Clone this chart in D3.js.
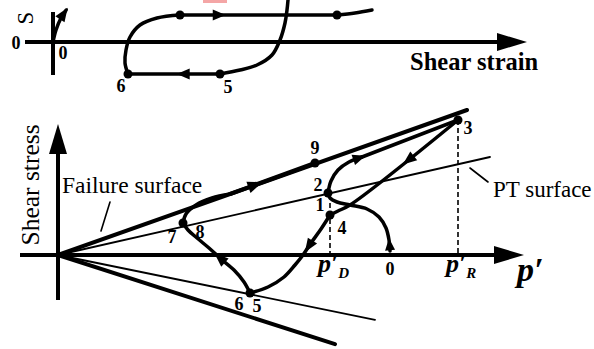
<!DOCTYPE html>
<html>
<head>
<meta charset="utf-8">
<script src="https://cdn.jsdelivr.net/npm/d3@7"></script>
<style>
  html, body { margin: 0; padding: 0; background: #fff; }
  svg { display: block; }
  text { font-family: "Liberation Serif", "Times New Roman", serif; fill: #000; }
</style>
</head>
<body>
<svg id="chart" width="594" height="349"></svg>
<script>
// ---------- Upper panel: shear stress vs shear strain (strain, stress units) ----------
const topInitial   = [[0, 0], [0.75, 3], [2, 6], [3.3, 8]];
const topUnload    = [[58.75, 10.5], [58.5, 8], [58, 4.75], [56.75, 0.5], [54.75, -3.25], [51, -5.75], [46.75, -7], [41.75, -8]];
const topLowerRun  = [[41.75, -8], [18.75, -8]];
const topReload    = [[18.75, -8], [18, -5.25], [18.25, -2], [19.25, 1.25], [21.75, 4.25], [26, 6], [31.75, 6.75]];
const topUpperRun  = [[31.75, 6.75], [71, 6.75]];
const topExit      = [[71, 6.75], [75.5, 7.25], [79.75, 8]];
const topDots      = [[41.75, -8], [18.75, -8], [31.75, 6.75], [71, 6.75]];
const topNumbers   = [
  { t: "0", x: -9.25, y: -0.25 },
  { t: "0", x: 2.5, y: -2.75 },
  { t: "6", x: 17, y: -11 },
  { t: "5", x: 43.75, y: -11.25 }
];

// ---------- Lower panel: stress path in p'-shear stress plane ----------
const failureUpper = [[0, 0], [102.25, 36.25]];
const failureLower = [[0, 0], [69.25, -22.3]];
const ptUpper      = [[0, 0], [108, 24.5]];
const ptLower      = [[0, 0], [79.25, -16.2]];

const path0to2 = [[83, 1], [82.75, 3.75], [82, 6.75], [80.25, 9.5], [77.25, 11.5], [73, 12.5], [69.75, 13.25], [68, 14.25], [67.5, 15.5]];
const path2to3 = [[67.5, 15.5], [68.25, 18.5], [70, 21.25], [72.75, 23.25], [76, 24.5]];
const path2to3Line = [[76, 24.5], [100, 33.75]];
const path3to4 = [[100, 33.75], [73, 12.5], [70, 11], [68, 10]];
const path4to5 = [[68, 10], [65.75, 6.5], [63.25, 3], [61.25, 0], [59.25, -2.5], [56.5, -5.5], [52.5, -8], [48, -9.5]];
const path6to7 = [[48, -9.5], [46.5, -6.75], [44, -3.75], [40.75, -1], [37.75, 1.75], [34.75, 4.25], [32.5, 6.25], [31.25, 8]];
const path8to9 = [[31.25, 8], [32, 10.25], [34.5, 12.5], [38.5, 14.25], [43, 15.25]];
const path8to9Line = [[43, 15.25], [64.25, 23]];

const pathDots = [[100, 33.75], [64.25, 23], [67.5, 15.5], [68, 10], [31.25, 8], [48, -9.5]];
const pDashes  = [[68, 13], [100, 33.75]];   // vertical drops to p'_D and p'_R
const pathNumbers = [
  { t: "9", x: 64.25, y: 26.75 },
  { t: "3", x: 102.5, y: 31.75 },
  { t: "2", x: 65, y: 17.5 },
  { t: "1", x: 65.5, y: 12.5 },
  { t: "4", x: 71, y: 6.75 },
  { t: "7", x: 28.5, y: 4.5 },
  { t: "8", x: 35.5, y: 5.75 },
  { t: "6", x: 45.25, y: -12.25 },
  { t: "5", x: 49.75, y: -12.75 },
  { t: "0", x: 83, y: -3.5 }
];
const pLabels = [
  { sub: "D", x: 65, y: -4.25 },
  { sub: "R", x: 97, y: -4.25 }
];

// ---------- scales ----------
const xTop = d3.scaleLinear().domain([0, 100]).range([53, 453]);
const yTop = d3.scaleLinear().domain([0, 10]).range([42, 2]);
const xB = d3.scaleLinear().domain([0, 100]).range([58, 458]);
const yB = d3.scaleLinear().domain([0, 10]).range([255, 215]);

const svg = d3.select("#chart");
const gTop = svg.append("g");
const gBot = svg.append("g");

function lineGen(xs, ys, curve) {
  return d3.line().x(d => xs(d[0])).y(d => ys(d[1])).curve(curve || d3.curveLinear);
}
function drawPath(g, pts, xs, ys, curve, w) {
  return g.append("path")
    .attr("d", lineGen(xs, ys, curve)(pts))
    .attr("fill", "none").attr("stroke", "#000")
    .attr("stroke-width", w).attr("stroke-linecap", "round").attr("stroke-linejoin", "round");
}
function triangle(g, cx, cy, ang, len, hw) {
  const dx = Math.cos(ang), dy = Math.sin(ang);
  const tip = [cx + dx * len / 2, cy + dy * len / 2];
  const b = [cx - dx * len / 2, cy - dy * len / 2];
  const pts = [tip, [b[0] - dy * hw, b[1] + dx * hw], [b[0] + dy * hw, b[1] - dx * hw]];
  g.append("polygon").attr("points", pts.map(p => p.join(",")).join(" ")).attr("fill", "#000");
}
function arrowAlong(g, sel, t, len, hw) {
  const node = sel.node();
  const L = node.getTotalLength();
  const a = Math.max(0, Math.min(L, t * L));
  const p0 = node.getPointAtLength(Math.max(0, a - 1.5));
  const p1 = node.getPointAtLength(Math.min(L, a + 1.5));
  const p = node.getPointAtLength(a);
  triangle(g, p.x, p.y, Math.atan2(p1.y - p0.y, p1.x - p0.x), len || 12, hw || 5);
}
const curve = d3.curveCatmullRom.alpha(0.5);

// ================= upper panel =================
gTop.append("rect")
  .attr("x", xTop(37.5)).attr("y", yTop(10.5)).attr("width", xTop(43.5) - xTop(37.5)).attr("height", yTop(9.75) - yTop(10.5))
  .attr("fill", "#f4a6a6");

// axes
drawPath(gTop, [[-7, 0], [112, 0]], xTop, yTop, null, 4).attr("stroke-linecap", "butt");
triangle(gTop, xTop(114.75), yTop(0), 0, 30, 9);
drawPath(gTop, [[0, 7.5], [0, -8.25]], xTop, yTop, null, 4).attr("stroke-linecap", "butt");

// initial loading and cyclic loop
const ini = drawPath(gTop, topInitial, xTop, yTop, curve, 3.5);
arrowAlong(gTop, ini, 0.88, 14, 5.5);
drawPath(gTop, topUnload, xTop, yTop, curve, 3.5);
const lowRun = drawPath(gTop, topLowerRun, xTop, yTop, null, 3.5);
arrowAlong(gTop, lowRun, 0.4, 13, 5.5);
drawPath(gTop, topReload, xTop, yTop, curve, 3.5);
const upRun = drawPath(gTop, topUpperRun, xTop, yTop, null, 3.5);
arrowAlong(gTop, upRun, 0.25, 13, 5.5);
drawPath(gTop, topExit, xTop, yTop, curve, 3.5);
gTop.selectAll("circle").data(topDots).join("circle")
  .attr("cx", d => xTop(d[0])).attr("cy", d => yTop(d[1])).attr("r", 4.5).attr("fill", "#000");

gTop.selectAll("text.num").data(topNumbers).join("text").attr("class", "num")
  .attr("x", d => xTop(d.x)).attr("y", d => yTop(d.y))
  .attr("text-anchor", "middle").attr("dominant-baseline", "central")
  .attr("font-size", 18).attr("font-weight", "bold").text(d => d.t);

gTop.append("text")
  .attr("transform", `translate(${xTop(-7)},${yTop(6)}) rotate(-90)`)
  .attr("text-anchor", "middle").attr("dominant-baseline", "central")
  .attr("font-size", 23).text("S");

gTop.append("text")
  .attr("x", xTop(89.25)).attr("y", yTop(-7))
  .attr("font-size", 24.5).attr("font-weight", "bold").text("Shear strain");

// ================= lower panel =================
// axes
drawPath(gBot, [[-9.5, 0], [110, 0]], xB, yB, null, 4).attr("stroke-linecap", "butt");
triangle(gBot, xB(112.75), yB(0), 0, 30, 9);
drawPath(gBot, [[0, -11.25], [0, 26]], xB, yB, null, 4).attr("stroke-linecap", "butt");
triangle(gBot, xB(0), yB(29), -Math.PI / 2, 30, 9);

// failure and phase-transformation lines
drawPath(gBot, failureUpper, xB, yB, null, 4);
drawPath(gBot, failureLower, xB, yB, null, 4);
drawPath(gBot, ptUpper, xB, yB, null, 1.8);
drawPath(gBot, ptLower, xB, yB, null, 1.8);

// dashed drops
gBot.selectAll("line.dash").data(pDashes).join("line").attr("class", "dash")
  .attr("x1", d => xB(d[0])).attr("x2", d => xB(d[0]))
  .attr("y1", d => yB(d[1])).attr("y2", yB(0))
  .attr("stroke", "#000").attr("stroke-width", 1.6).attr("stroke-dasharray", "5,3");

// stress path
const s02 = drawPath(gBot, path0to2, xB, yB, curve, 3.5);
arrowAlong(gBot, s02, 0.07, 12, 5);
const s23 = drawPath(gBot, path2to3, xB, yB, curve, 3.5);
drawPath(gBot, path2to3Line, xB, yB, null, 3.5);
arrowAlong(gBot, s23, 0.95, 13, 5.5);
const s34 = drawPath(gBot, path3to4, xB, yB, curve, 3.5);
arrowAlong(gBot, s34, 0.4, 14, 5.5);
const s45 = drawPath(gBot, path4to5, xB, yB, curve, 3.5);
arrowAlong(gBot, s45, 0.33, 14, 5.5);
const s67 = drawPath(gBot, path6to7, xB, yB, curve, 3.5);
arrowAlong(gBot, s67, 0.48, 14, 5.5);
drawPath(gBot, path8to9, xB, yB, curve, 3.5);
const s89 = drawPath(gBot, path8to9Line, xB, yB, null, 4);
arrowAlong(gBot, s89, 0.3, 15, 6);

gBot.selectAll("circle").data(pathDots).join("circle")
  .attr("cx", d => xB(d[0])).attr("cy", d => yB(d[1])).attr("r", 4.5).attr("fill", "#000");

gBot.selectAll("text.num").data(pathNumbers).join("text").attr("class", "num")
  .attr("x", d => xB(d.x)).attr("y", d => yB(d.y))
  .attr("text-anchor", "middle").attr("dominant-baseline", "central")
  .attr("font-size", 18).attr("font-weight", "bold").text(d => d.t);

// annotations
gBot.append("text").attr("x", xB(1)).attr("y", yB(15.5)).attr("font-size", 23.5).text("Failure surface");
drawPath(gBot, [[13, 13.25], [10.75, 6]], xB, yB, null, 1.6);
gBot.append("text").attr("x", xB(108.75)).attr("y", yB(14.5)).attr("font-size", 23).text("PT surface");
drawPath(gBot, [[103, 21.75], [107.5, 18.25]], xB, yB, null, 1.6);

gBot.append("text")
  .attr("transform", `translate(${xB(-7)},${yB(17.5)}) rotate(-90)`)
  .attr("text-anchor", "middle").attr("dominant-baseline", "central")
  .attr("font-size", 25.5).text("Shear stress");

// p' labels: italic p′ followed by a lowered subscript
pLabels.forEach(d => {
  const t = gBot.append("text").attr("x", xB(d.x)).attr("y", yB(d.y))
    .attr("font-size", 26).attr("font-weight", "bold").attr("font-style", "italic");
  t.append("tspan").text("p\u2032");
  t.append("tspan").attr("font-size", 15).attr("dy", 6).attr("dx", 0).text(d.sub);
});
gBot.append("text").attr("x", xB(114.75)).attr("y", yB(-6.5))
  .attr("font-size", 34).attr("font-weight", "bold").attr("font-style", "italic")
  .text("p\u2032");
</script>
</body>
</html>
